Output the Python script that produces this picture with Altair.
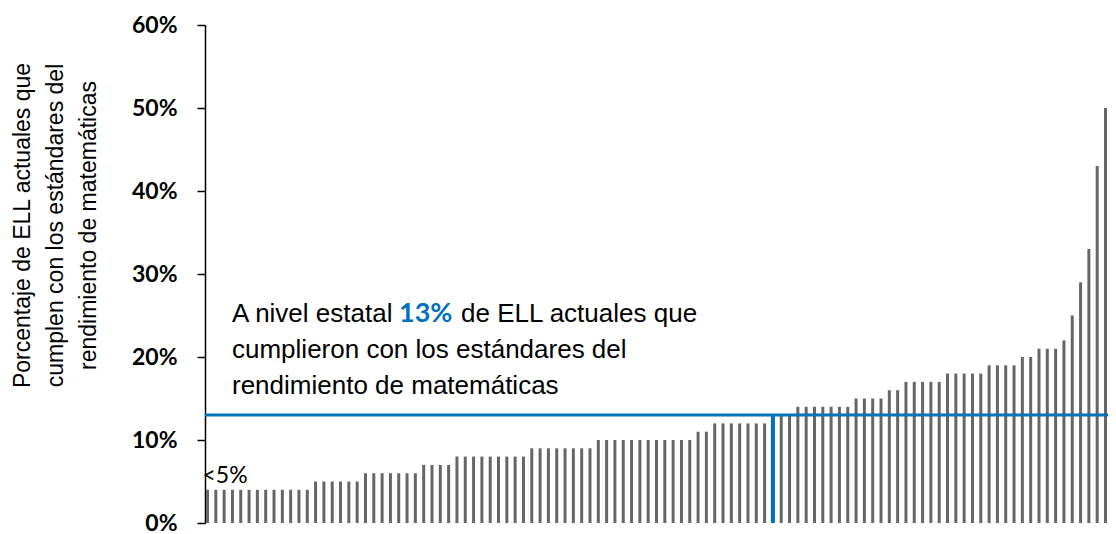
import altair as alt
import pandas as pd

# Percent of current ELL meeting math standards, one bar per district (sorted)
values = [
    4, 4, 4, 4, 4, 4, 4, 4, 4, 4, 4, 4, 4,
    5, 5, 5, 5, 5, 5,
    6, 6, 6, 6, 6, 6, 6,
    7, 7, 7, 7,
    8, 8, 8, 8, 8, 8, 8, 8, 8,
    9, 9, 9, 9, 9, 9, 9, 9,
    10, 10, 10, 10, 10, 10, 10, 10, 10, 10, 10, 10,
    11, 11,
    12, 12, 12, 12, 12, 12, 12,
    13,
    13, 13,
    14, 14, 14, 14, 14, 14, 14,
    15, 15, 15, 15,
    16, 16,
    17, 17, 17, 17, 17,
    18, 18, 18, 18, 18,
    19, 19, 19, 19,
    20, 20,
    21, 21, 21,
    22,
    25, 29, 33, 43, 50,
]
state_index = 68          # position of the statewide bar (0-based)
state_value = 13

y_ticks = [0, 0.1, 0.2, 0.3, 0.4, 0.5, 0.6]
y_title = ["Porcentaje de ELL actuales que",
           "cumplen con los estándares del",
           "rendimiento de matemáticas"]
note_a = "A nivel estatal"
note_b = "13%"
note_c = "de ELL actuales que"
note_rest = ["cumplieron con los estándares del",
             "rendimiento de matemáticas"]
low_label = "<5%"

GRAY = "#666666"
BLUE = "#0070C0"
NARROW = "Liberation Sans Narrow, Liberation Sans, sans-serif"

df = pd.DataFrame({
    "idx": list(range(len(values))),
    "pct": [v / 100 for v in values],
    "state": [i == state_index for i in range(len(values))],
})

xscale = alt.Scale(paddingInner=0.64, paddingOuter=0.12)
yscale = alt.Scale(domain=[0, 0.6], nice=False)

x_enc = alt.X("idx:O", scale=xscale, axis=None, sort=None)

bars = alt.Chart(df).mark_bar(color=GRAY).encode(
    x=x_enc,
    y=alt.Y("pct:Q", scale=yscale,
            axis=alt.Axis(values=y_ticks, format=".0%", title=y_title,
                          grid=False, domainColor="black", tickColor="black",
                          domainWidth=1.5, tickWidth=1.5,
                          tickSize=8, labelPadding=20,
                          labelFont="Lato", labelFontSize=23, labelFontWeight="bold",
                          labelColor="black",
                          titleFont=NARROW, titleFontSize=23, titleFontWeight="normal",
                          titleColor="black", titleLineHeight=33,
                          titleAngle=270, titleAlign="center", titleBaseline="bottom",
                          titleX=-171, titleY=200)),
)

state_df = df[df["state"]]
state_bar = alt.Chart(state_df).mark_rule(color=BLUE, strokeWidth=4).encode(
    x=x_enc,
    y=alt.Y("pct:Q", scale=yscale),
    y2=alt.datum(0),
)

hline = alt.Chart(pd.DataFrame({"v": [state_value / 100]})).mark_rule(
    color=BLUE, strokeWidth=3
).encode(
    y=alt.Y("v:Q", scale=yscale),
    x=alt.value(0), x2=alt.value(903),
)

low = alt.Chart(pd.DataFrame({"idx": [0], "pct": [values[0] / 100], "t": [low_label]})).mark_text(
    align="left", baseline="alphabetic", dx=-5, dy=-7,
    font="Lato", fontSize=23, color="black"
).encode(x=x_enc, y=alt.Y("pct:Q", scale=yscale), text="t:N")

def txt(s, x, y, font, size, weight="normal", color="black"):
    return alt.Chart(pd.DataFrame({"t": [s]})).mark_text(
        align="left", baseline="alphabetic", font=font, fontSize=size,
        fontWeight=weight, color=color
    ).encode(text="t:N", x=alt.value(x), y=alt.value(y))

n1 = txt(note_a, 27, 297, NARROW, 26)
n2 = txt(note_b, 194, 297, "Lato", 27, "bold", BLUE)
n3 = txt(note_c, 256, 297, NARROW, 26)
n4 = alt.Chart(pd.DataFrame({"t": [note_rest]})).mark_text(
    align="left", baseline="alphabetic", font=NARROW, fontSize=26,
    color="black", lineHeight=35.5
).encode(text="t:N", x=alt.value(27), y=alt.value(333))

chart = alt.layer(bars, state_bar, hline, low, n1, n2, n3, n4).properties(
    width=903, height=498,
    padding={"left": 197, "top": 17, "right": 0, "bottom": 11},
    autosize=alt.AutoSizeParams(type="none"),
).configure_view(strokeWidth=0)

chart.save("out.html", embed_options={"renderer": "svg", "actions": False})
